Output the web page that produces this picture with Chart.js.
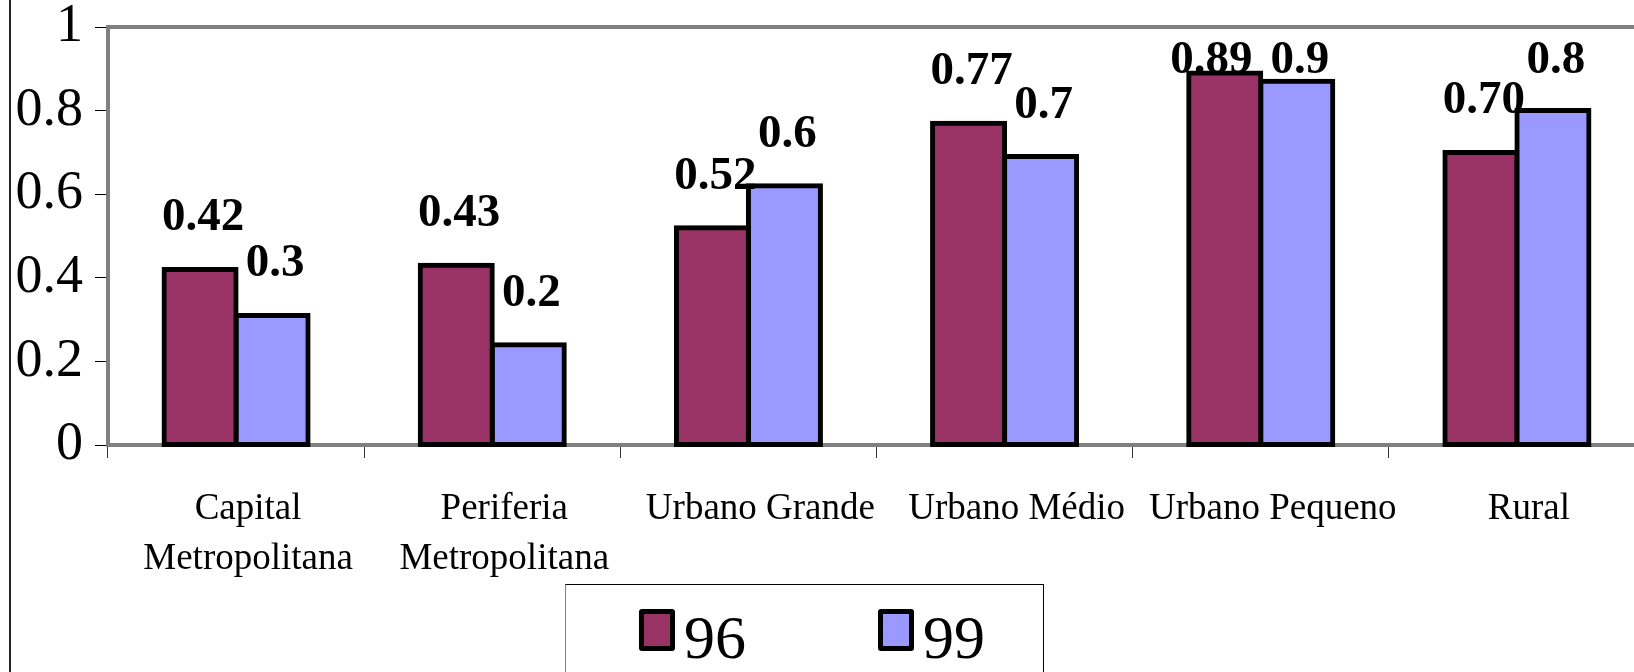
<!DOCTYPE html>
<html>
<head>
<meta charset="utf-8">
<script src="https://cdn.jsdelivr.net/npm/chart.js@4/dist/chart.umd.min.js"></script>
<style>
  html, body { margin: 0; padding: 0; background: #fff; overflow: hidden; }
  #wrap { position: relative; width: 1634px; height: 672px; overflow: hidden; }
  #frame { position: absolute; left: 9px; top: 0; width: 2px; height: 672px; background: #222; }
  #myChart { position: absolute; left: 0; top: 0; }
  #legend {
    position: absolute; left: 565px; top: 584px; width: 477px; height: 120px;
    border: 1.5px solid #000; border-left-color: #808080; background: #fff;
    font-family: "Liberation Serif", "Times New Roman", serif;
  }
  .sw { position: absolute; top: 24px; width: 36px; height: 42px; box-sizing: border-box;
        border: 5px solid #000; border-radius: 3px; }
  .lt { position: absolute; top: 21px; font-size: 62px; line-height: 62px; color: #000; }
</style>
</head>
<body>
<div id="wrap">
  <canvas id="myChart" width="1660" height="672"></canvas>
  <div id="frame"></div>
  <div id="legend"></div>
</div>
<script>
const categories = [
  ["Capital", "Metropolitana"],
  ["Periferia", "Metropolitana"],
  "Urbano Grande",
  "Urbano Médio",
  "Urbano Pequeno",
  "Rural",
];
const seriesNames = ["96", "99"];
const values96 = [0.42, 0.43, 0.52, 0.77, 0.89, 0.70];
const values99 = [0.31, 0.24, 0.62, 0.69, 0.87, 0.80];
const decimals = [2, 1]; // how many decimals each series shows on its labels
const yTickLabels = ["0", "0.2", "0.4", "0.6", "0.8", "1"];

const serif = "'Liberation Serif', 'Times New Roman', serif";

// value labels above the bars (kept inside the plot area like excel does)
const barLabels = {
  id: "barLabels",
  afterDatasetsDraw(chart) {
    const ctx = chart.ctx;
    ctx.save();
    ctx.font = "bold 47px " + serif;
    ctx.fillStyle = "#000";
    ctx.textAlign = "center";
    ctx.textBaseline = "alphabetic";
    const m0 = chart.getDatasetMeta(0).data;
    const m1 = chart.getDatasetMeta(1).data;
    const ds = chart.data.datasets;
    m0.forEach((bar0, j) => {
      const bar1 = m1[j];
      const t0 = ds[0].data[j].toFixed(decimals[0]);
      const t1 = ds[1].data[j].toFixed(decimals[1]);
      const y0 = Math.max(bar0.y - 39, chart.chartArea.top + 46);
      const y1 = Math.max(bar1.y - 39, chart.chartArea.top + 46);
      let x0 = bar0.x + 3;
      const x1 = bar1.x + 3;
      // push the first label left when both sit on the same line
      if (Math.abs(y0 - y1) < 10) {
        const gap = (x1 - ctx.measureText(t1).width / 2) - (x0 + ctx.measureText(t0).width / 2);
        if (gap < 18) x0 -= 18 - gap;
      }
      ctx.fillText(t0, x0, y0);
      ctx.fillText(t1, x1, y1);
    });
    ctx.restore();
  },
};

// gray top edge of the plot area
const plotTop = {
  id: "plotTop",
  beforeDatasetsDraw(chart) {
    const { ctx, chartArea } = chart;
    ctx.save();
    ctx.strokeStyle = "#808080";
    ctx.lineWidth = 4;
    ctx.beginPath();
    ctx.moveTo(chartArea.left - 2, chartArea.top);
    ctx.lineTo(chart.width, chartArea.top);
    ctx.stroke();
    ctx.restore();
  },
};

const chart1 = document.getElementById("myChart").getContext("2d");
const myChart = new Chart(chart1, {
  type: "bar",
  data: {
    labels: categories,
    datasets: [
      {
        label: seriesNames[0],
        data: values96,
        backgroundColor: "#993366",
        borderColor: "#000",
        borderWidth: 5,
        borderSkipped: false,
        inflateAmount: 2.5,
        clip: false,
      },
      {
        label: seriesNames[1],
        data: values99,
        backgroundColor: "#9999FF",
        borderColor: "#000",
        borderWidth: 5,
        borderSkipped: false,
        inflateAmount: 2.5,
        clip: false,
      },
    ],
  },
  options: {
    responsive: false,
    animation: false,
    categoryPercentage: 0.5623,
    barPercentage: 1,
    layout: { padding: { top: 27, right: 15, bottom: 88, left: 0 } },
    plugins: {
      legend: { display: false },
      tooltip: { enabled: false },
    },
    scales: {
      x: {
        offset: true,
        grid: { offset: true, drawOnChartArea: false, drawTicks: true, tickLength: 13, color: "#333", lineWidth: 1 },
        border: { display: true, color: "#808080", width: 4 },
        ticks: {
          color: "#000",
          font: { family: serif, size: 37, lineHeight: 1.35 },
          padding: 26,
          labelOffset: 12,
          maxRotation: 0,
          autoSkip: false,
        },
        afterFit(scale) {
          scale.height = 139;
          scale.paddingLeft = 0;
          scale.paddingRight = 0;
        },
      },
      y: {
        min: 0,
        max: 1,
        grid: { drawOnChartArea: false, drawTicks: true, tickLength: 13, color: "#000", lineWidth: 1 },
        border: { display: true, color: "#808080", width: 4 },
        ticks: {
          stepSize: 0.2,
          color: "#000",
          font: { family: serif, size: 54 },
          padding: 12,
          callback: (v, i) => yTickLabels[i],
        },
        afterFit(scale) {
          scale.width = 108;
          scale.paddingTop = 0;
          scale.paddingBottom = 0;
        },
      },
    },
  },
  plugins: [barLabels, plotTop],
});

// boxed legend under the chart, built from the datasets
const legendBox = document.getElementById("legend");
myChart.data.datasets.forEach((ds, i) => {
  const sw = document.createElement("div");
  sw.className = "sw";
  sw.style.left = (73 + i * 239) + "px";
  sw.style.background = ds.backgroundColor;
  const lt = document.createElement("span");
  lt.className = "lt";
  lt.style.left = (118 + i * 239) + "px";
  lt.textContent = ds.label;
  legendBox.appendChild(sw);
  legendBox.appendChild(lt);
});
</script>
</body>
</html>
